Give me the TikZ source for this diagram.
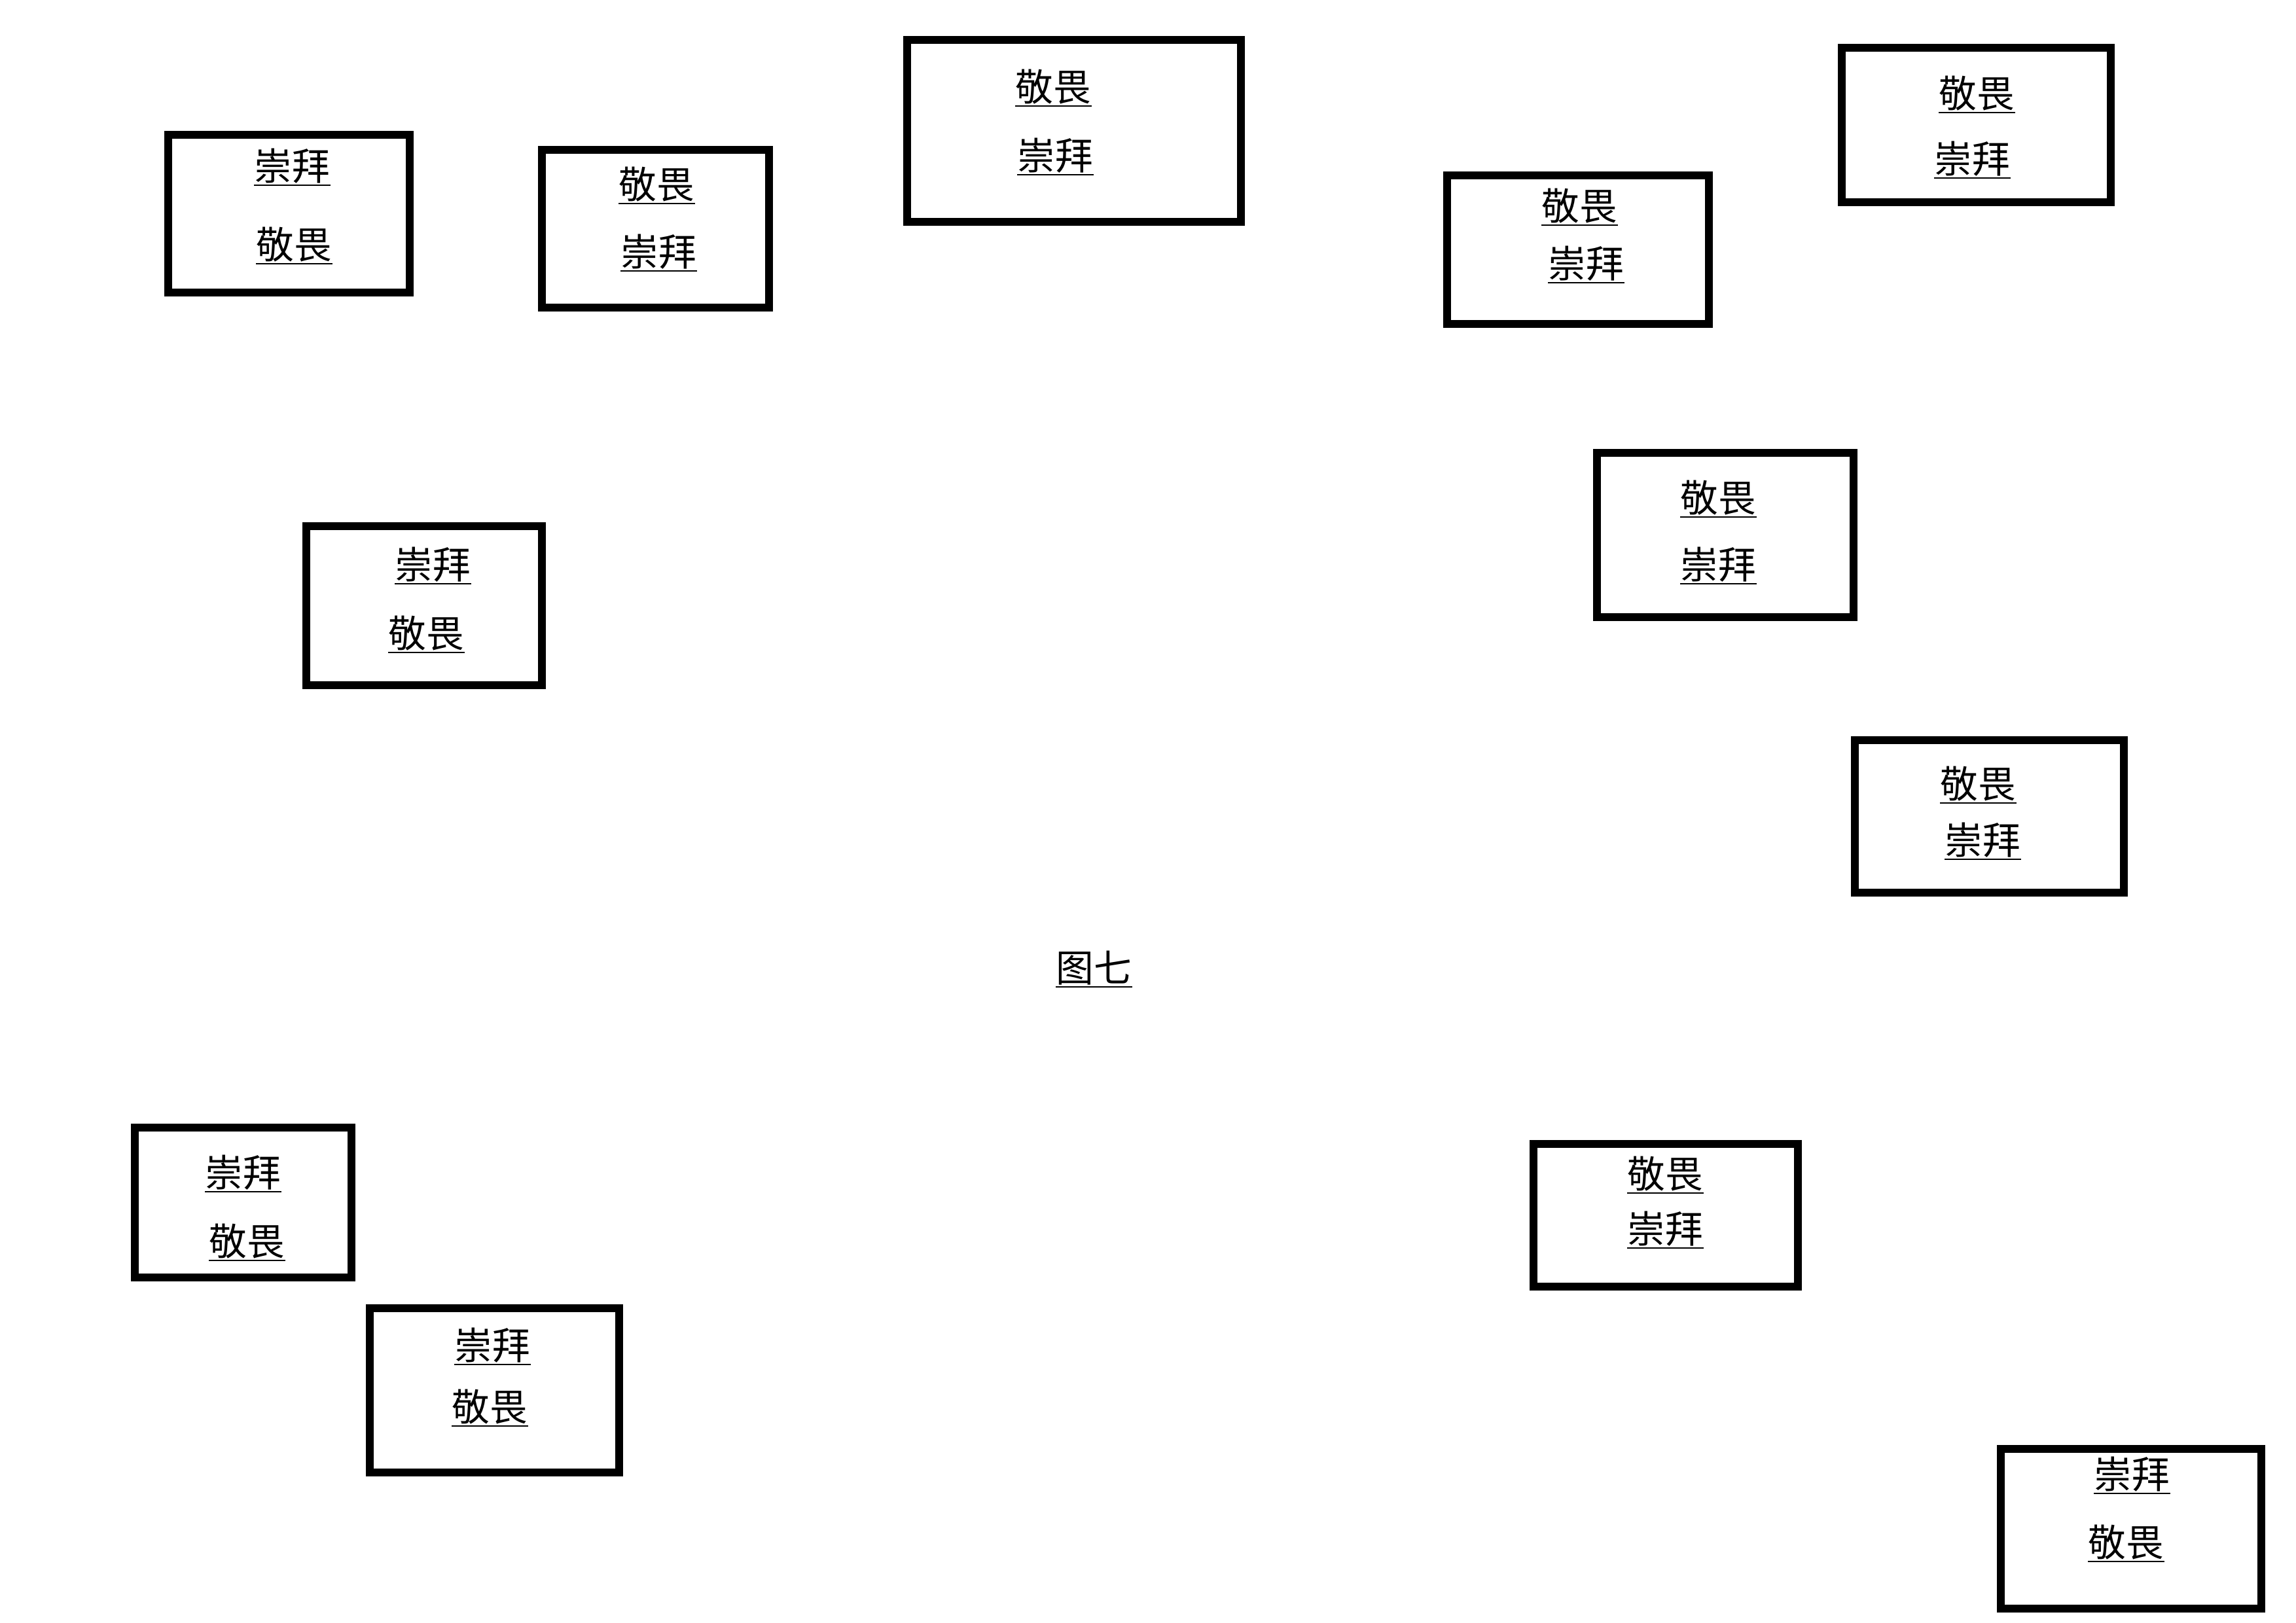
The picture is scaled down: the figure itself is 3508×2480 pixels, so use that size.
\documentclass[tikz,border=0pt]{standalone}
\usepackage{fontspec}
\newfontfamily\cjk{Noto Sans CJK SC}
\usetikzlibrary{fit}
\tikzset{
  box/.style={draw=black, line width=2.9pt, inner sep=0pt, rectangle},
  lbl/.style={font=\cjk\fontsize{13.9pt}{16pt}\selectfont, inner sep=0pt, anchor=south west},
  uline/.style={line width=0.55pt, black}
}
\newcommand{\ulbl}[3]{%
  \node[lbl] (#1) at (#2) {#3};
  \draw[uline] ([yshift=-0.5pt]#1.south west) -- ([yshift=-0.5pt]#1.south east);}
\begin{document}
\begin{tikzpicture}[x=0.2409pt, y=-0.2409pt]
\useasboundingbox (0,0) rectangle (3508,2480);
% boxes
\node[box, fit={(257,206) (626,447)}] (A) {};
\node[box, fit={(828,229) (1175,470)}] (B) {};
\node[box, fit={(1386,61) (1896,339)}] (C) {};
\node[box, fit={(2211,268) (2611,495)}] (D) {};
\node[box, fit={(2814,73) (3225,309)}] (E) {};
\node[box, fit={(468,804) (828,1047)}] (F) {};
\node[box, fit={(2440,692) (2832,943)}] (G) {};
\node[box, fit={(2834,1131) (3245,1364)}] (H) {};
\node[box, fit={(206,1723) (537,1952)}] (I) {};
\node[box, fit={(565,1999) (946,2250)}] (J) {};
\node[box, fit={(2343,1748) (2747,1966)}] (K) {};
\node[box, fit={(3057,2214) (3455,2458)}] (L) {};
% labels
\ulbl{a1}{388,281}{崇拜}
\ulbl{a2}{391,401}{敬畏}
\ulbl{b1}{945,309}{敬畏}
\ulbl{b2}{948,412}{崇拜}
\ulbl{c1}{1551,160}{敬畏}
\ulbl{c2}{1554,265}{崇拜}
\ulbl{d1}{2355,342}{敬畏}
\ulbl{d2}{2365,430}{崇拜}
\ulbl{e1}{2962,170}{敬畏}
\ulbl{e2}{2955,270}{崇拜}
\ulbl{f1}{603,890}{崇拜}
\ulbl{f2}{593,995}{敬畏}
\ulbl{g1}{2567,788}{敬畏}
\ulbl{g2}{2567,890}{崇拜}
\ulbl{h1}{2964,1225}{敬畏}
\ulbl{h2}{2971,1311}{崇拜}
\ulbl{i1}{313,1819}{崇拜}
\ulbl{i2}{319,1924}{敬畏}
\ulbl{j1}{694,2083}{崇拜}
\ulbl{j2}{690,2177}{敬畏}
\ulbl{k1}{2486,1821}{敬畏}
\ulbl{k2}{2486,1905}{崇拜}
\ulbl{l1}{3199,2280}{崇拜}
\ulbl{l2}{3190,2384}{敬畏}
\ulbl{cap}{1613,1506}{图七}
\end{tikzpicture}
\end{document}
